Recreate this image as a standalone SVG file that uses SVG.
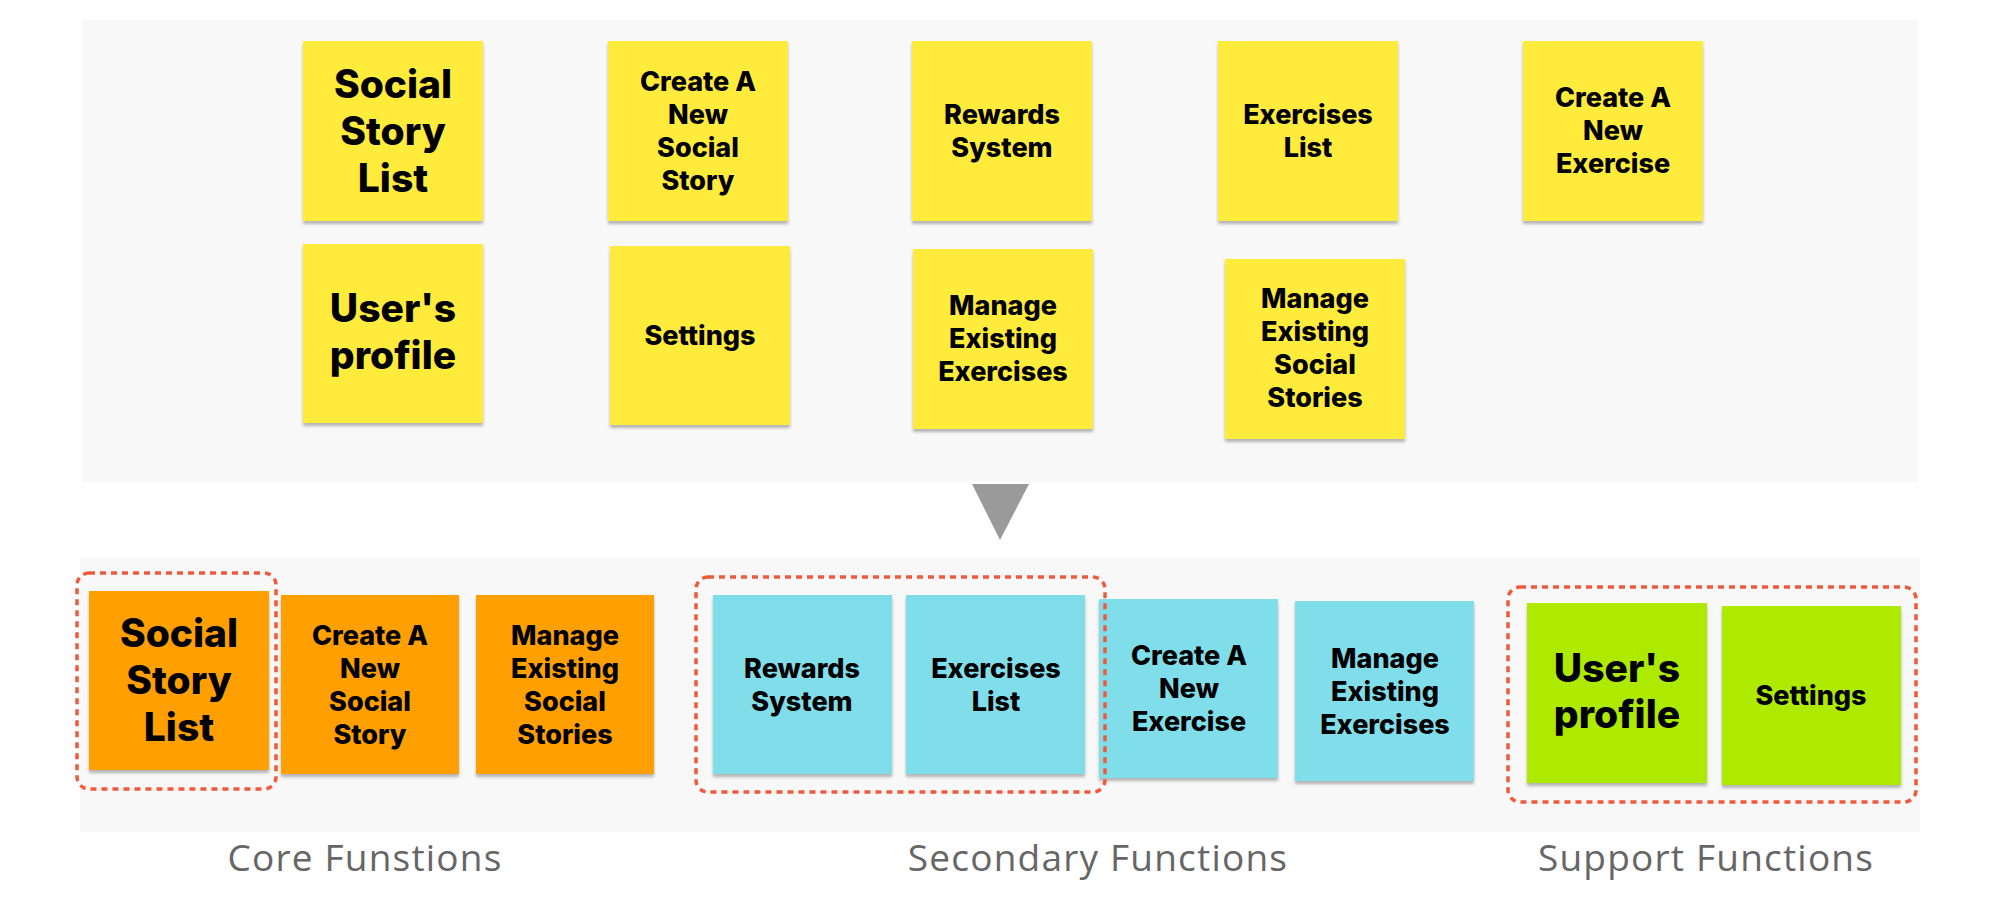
<svg xmlns="http://www.w3.org/2000/svg" width="2000" height="898" viewBox="0 0 2000 898">
<defs>
<filter id="sh" x="-10%" y="-10%" width="120%" height="125%">
<feDropShadow dx="0" dy="3" stdDeviation="1.5" flood-color="#000" flood-opacity="0.28"/>
</filter>
<style>
.panel{fill:#f8f8f8}
.y{fill:#ffeb3b;filter:url(#sh)}
.o{fill:#ff9f00;filter:url(#sh)}
.c{fill:#80deea;filter:url(#sh)}
.g{fill:#aeea00;filter:url(#sh)}
.t{font-family:Inter,"Liberation Sans",sans-serif;font-weight:800;fill:#000;text-anchor:middle}
.m{font-size:27px}
.l{font-size:39px}
.d{fill:none;stroke:#f05a3c;stroke-width:3.5;stroke-dasharray:6 5}
.lab{font-family:"Open Sans","Noto Sans","Liberation Sans",sans-serif;font-size:37px;letter-spacing:1.2px;fill:#666;text-anchor:middle}
</style>
</defs>
<rect width="2000" height="898" fill="#fff"/>
<rect class="panel" x="82" y="20" width="1836" height="462"/>
<rect class="panel" x="80" y="558" width="1840" height="274"/>
<polygon points="972,484 1029,484 1000,540" fill="#9a9a9a"/>

<g id="top-social-story-list"><rect class="y" x="303" y="41" width="180" height="180"/>
<text class="t l" x="393"><tspan x="393" y="98">Social</tspan><tspan x="393" y="145">Story</tspan><tspan x="393" y="192">List</tspan></text></g>
<g id="top-create-social-story"><rect class="y" x="608" y="41" width="180" height="180"/>
<text class="t m"><tspan x="698" y="91">Create A</tspan><tspan x="698" y="124">New</tspan><tspan x="698" y="157">Social</tspan><tspan x="698" y="190">Story</tspan></text></g>
<g id="top-rewards-system"><rect class="y" x="912" y="41" width="180" height="180"/>
<text class="t m"><tspan x="1002" y="124">Rewards</tspan><tspan x="1002" y="157">System</tspan></text></g>
<g id="top-exercises-list"><rect class="y" x="1218" y="41" width="180" height="180"/>
<text class="t m"><tspan x="1308" y="124">Exercises</tspan><tspan x="1308" y="157">List</tspan></text></g>
<g id="top-create-exercise"><rect class="y" x="1523" y="41" width="180" height="180"/>
<text class="t m"><tspan x="1613" y="107">Create A</tspan><tspan x="1613" y="140">New</tspan><tspan x="1613" y="173">Exercise</tspan></text></g>
<g id="top-users-profile"><rect class="y" x="303" y="244" width="180" height="179"/>
<text class="t l"><tspan x="393" y="322">User's</tspan><tspan x="393" y="369">profile</tspan></text></g>
<g id="top-settings"><rect class="y" x="610" y="246" width="180" height="179"/>
<text class="t m"><tspan x="700" y="345">Settings</tspan></text></g>
<g id="top-manage-exercises"><rect class="y" x="913" y="249" width="180" height="180"/>
<text class="t m"><tspan x="1003" y="315">Manage</tspan><tspan x="1003" y="348">Existing</tspan><tspan x="1003" y="381">Exercises</tspan></text></g>
<g id="top-manage-stories"><rect class="y" x="1225" y="259" width="180" height="180"/>
<text class="t m"><tspan x="1315" y="308">Manage</tspan><tspan x="1315" y="341">Existing</tspan><tspan x="1315" y="374">Social</tspan><tspan x="1315" y="407">Stories</tspan></text></g>

<g id="b-social-story-list"><rect class="o" x="89" y="591" width="180" height="179"/>
<text class="t l"><tspan x="179" y="647">Social</tspan><tspan x="179" y="694">Story</tspan><tspan x="179" y="741">List</tspan></text></g>
<g id="b-create-social-story"><rect class="o" x="281" y="595" width="178" height="179"/>
<text class="t m"><tspan x="370" y="645">Create A</tspan><tspan x="370" y="678">New</tspan><tspan x="370" y="711">Social</tspan><tspan x="370" y="744">Story</tspan></text></g>
<g id="b-manage-stories"><rect class="o" x="476" y="595" width="178" height="179"/>
<text class="t m"><tspan x="565" y="645">Manage</tspan><tspan x="565" y="678">Existing</tspan><tspan x="565" y="711">Social</tspan><tspan x="565" y="744">Stories</tspan></text></g>
<g id="b-rewards-system"><rect class="c" x="713" y="595" width="179" height="179"/>
<text class="t m"><tspan x="802" y="678">Rewards</tspan><tspan x="802" y="711">System</tspan></text></g>
<g id="b-exercises-list"><rect class="c" x="906" y="595" width="179" height="179"/>
<text class="t m"><tspan x="996" y="678">Exercises</tspan><tspan x="996" y="711">List</tspan></text></g>
<g id="b-create-exercise"><rect class="c" x="1099" y="599" width="179" height="179"/>
<text class="t m"><tspan x="1189" y="665">Create A</tspan><tspan x="1189" y="698">New</tspan><tspan x="1189" y="731">Exercise</tspan></text></g>
<g id="b-manage-exercises"><rect class="c" x="1295" y="601" width="179" height="180"/>
<text class="t m"><tspan x="1385" y="668">Manage</tspan><tspan x="1385" y="701">Existing</tspan><tspan x="1385" y="734">Exercises</tspan></text></g>
<g id="b-users-profile"><rect class="g" x="1527" y="603" width="180" height="180"/>
<text class="t l"><tspan x="1617" y="682">User's</tspan><tspan x="1617" y="728">profile</tspan></text></g>
<g id="b-settings"><rect class="g" x="1722" y="606" width="179" height="179"/>
<text class="t m"><tspan x="1811" y="705">Settings</tspan></text></g>

<g id="groups">
<rect class="d" x="77" y="573" width="199" height="216" rx="12"/>
<rect class="d" x="696" y="577" width="409" height="215" rx="12"/>
<rect class="d" x="1508" y="587" width="408" height="215" rx="12"/>
</g>
<g id="labels">
<text class="lab" x="365" y="871">Core Funstions</text>
<text class="lab" x="1098" y="871">Secondary Functions</text>
<text class="lab" x="1706" y="871">Support Functions</text>
</g>
</svg>
